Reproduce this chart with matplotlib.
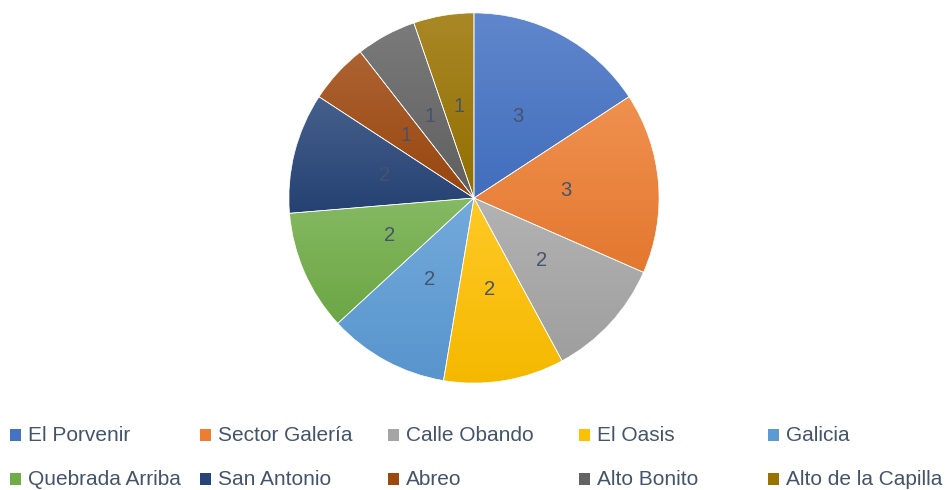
import numpy as np
import matplotlib.pyplot as plt
from matplotlib.colors import to_rgb
from matplotlib.patches import Rectangle

names = ['El Porvenir', 'Sector Galería', 'Calle Obando', 'El Oasis', 'Galicia',
         'Quebrada Arriba', 'San Antonio', 'Abreo', 'Alto Bonito', 'Alto de la Capilla']
values = [3, 3, 2, 2, 2, 2, 2, 1, 1, 1]
colors = ['#4472C4', '#ED7D31', '#A5A5A5', '#FFC000', '#5B9BD5',
          '#70AD47', '#264478', '#9E480E', '#636363', '#997300']

plt.rcParams['font.family'] = ['Liberation Sans', 'DejaVu Sans']

fig = plt.figure(figsize=(9.51, 4.9), dpi=100)
ax = fig.add_axes([0.3028, 0.2163, 0.3912, 0.7592])

wedges, texts = ax.pie(values, colors=colors, startangle=90, counterclock=False,
                       labels=[str(v) for v in values], labeldistance=0.5,
                       wedgeprops=dict(edgecolor='white', linewidth=0.5),
                       textprops=dict(color='#44546A', fontsize=14.5))
for t in texts:
    t.set_zorder(5)
    t.set_ha('center')
    t.set_va('center')

# vertical gradient inside each wedge, lighter at top
for w, c in zip(wedges, colors):
    rgb = np.array(to_rgb(c))
    top = rgb + (1 - rgb) * 0.15
    bot = rgb * 0.96
    g = np.linspace(0, 1, 64)[:, None]
    img = top[None, :] * (1 - g) + bot[None, :] * g
    img = img[:, None, :]
    bb = w.get_path().get_extents()
    im = ax.imshow(img, extent=[bb.x0, bb.x1, bb.y0, bb.y1], aspect='auto',
                   origin='upper', zorder=1.5, interpolation='bilinear')
    im.set_clip_path(w)
    w.set_zorder(2)
    w.set_facecolor('none')

ax.set_xlim(-1.005, 1.005)
ax.set_ylim(-1.005, 1.005)
ax.set_aspect('equal')
ax.axis('off')

# legend, 5 columns x 2 rows
col_x = [10, 200, 388, 579, 768]
row_y = [435, 479]
for i, (n, c) in enumerate(zip(names, colors)):
    x = col_x[i % 5]
    y = row_y[i // 5]
    fig.patches.append(Rectangle((x / 951, 1 - (y + 6) / 490), 11 / 951, 12 / 490,
                                 transform=fig.transFigure, facecolor=c, edgecolor='none'))
    fig.text((x + 18) / 951, 1 - y / 490, n, ha='left', va='center',
             fontsize=15, color='#44546A')

fig.savefig('out.png', dpi=100)
